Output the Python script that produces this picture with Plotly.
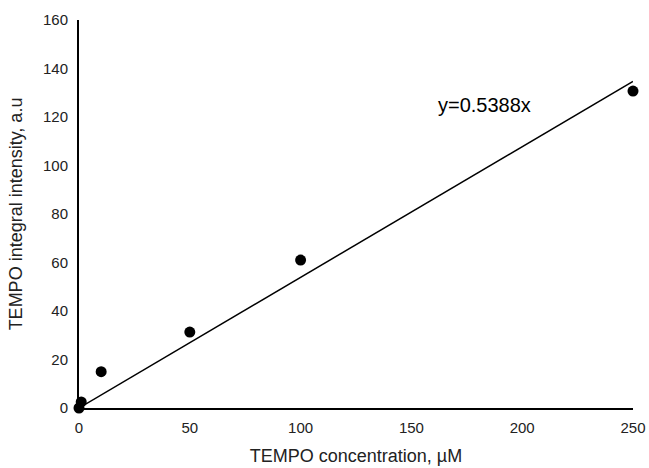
import plotly.graph_objects as go

conc = [0, 1, 10, 50, 100, 250]
intensity = [0, 2.5, 15, 31.3, 61, 130.7]
slope = 0.5388
fit_x = [0, 250]
fit_y = [slope * v for v in fit_x]
tickvals_x = [0, 50, 100, 150, 200, 250]
tickvals_y = [0, 20, 40, 60, 80, 100, 120, 140, 160]

fig = go.Figure()
fig.add_trace(go.Scatter(x=fit_x, y=fit_y, mode="lines", cliponaxis=False,
                         line=dict(color="black", width=1.5), showlegend=False))
fig.add_trace(go.Scatter(x=conc, y=intensity, mode="markers", cliponaxis=False,
                         marker=dict(color="black", size=11), showlegend=False))
fig.add_annotation(x=182.8, y=125, text="y=0.5388x", showarrow=False,
                   font=dict(family="Liberation Sans, Arial", size=20, color="black"))

fig.update_layout(
    width=649, height=468,
    margin=dict(l=79, r=16, t=20, b=60),
    plot_bgcolor="white", paper_bgcolor="white",
    font=dict(family="Liberation Sans, Arial", size=15, color="#222222"),
)
fig.update_xaxes(range=[0, 250], tickvals=tickvals_x, showgrid=False, zeroline=False,
                 showline=True, linecolor="black", linewidth=2, ticks="", automargin=False,
                 title=dict(text="TEMPO concentration, µM", font=dict(size=18), standoff=14),
                 ticklabelstandoff=5)
fig.update_yaxes(range=[0, 160], tickvals=tickvals_y, showgrid=False, zeroline=False,
                 showline=True, linecolor="black", linewidth=2, ticks="", automargin=False,
                 title=dict(text="TEMPO integral intensity, a.u", font=dict(size=18), standoff=16),
                 ticklabelstandoff=6)

fig.write_html("out.html", config={"displayModeBar": False},
               post_script="document.body.style.margin='0';document.body.style.overflow='hidden';")
